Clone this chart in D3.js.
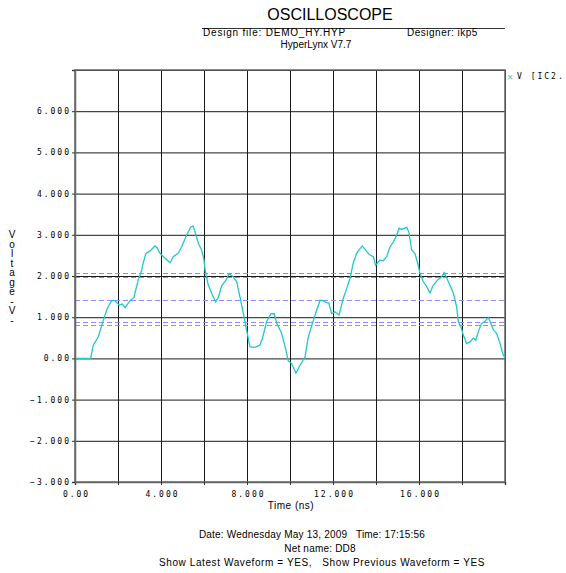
<!DOCTYPE html>
<html lang="en">
<head>
<meta charset="UTF-8">
<title>OSCILLOSCOPE</title>
<script src="https://cdn.jsdelivr.net/npm/d3@7"></script>
<style>
    body { margin: 0; background: #fff; }
    svg { display: block; }
    .lbl { font-family: "Liberation Sans", Arial, sans-serif; font-size: 10px; fill: #000; white-space: pre; }
    .mono { font-family: "DejaVu Sans Mono", monospace; font-size: 8px; letter-spacing: 2px; fill: #000; }
</style>
</head>
<body>
<div id="chart"></div>
<script>
    // waveform V [IC2...]: time (ns) / voltage (V)
    var timeNs = [0, 0.73, 0.85, 1.08, 1.32, 1.50, 1.70, 1.85, 2.06, 2.20, 2.33, 2.56, 2.74, 2.94, 3.10, 3.17, 3.30, 3.49, 3.72, 3.83,
        3.95, 4.19, 4.42, 4.57, 4.81, 4.96, 5.19, 5.38, 5.50, 5.63, 5.74, 5.89, 6.00, 6.05, 6.20, 6.36, 6.54, 6.67, 6.82, 7.02,
        7.17, 7.36, 7.52, 7.67, 7.83, 7.98, 8.14, 8.37, 8.60, 8.72, 8.91, 9.11, 9.26, 9.38, 9.61, 9.81, 9.92, 10.07, 10.28, 10.47,
        10.70, 10.85, 11.09, 11.24, 11.40, 11.55, 11.71, 11.80, 11.94, 12.09, 12.28, 12.48, 12.64, 12.79, 12.94, 13.10, 13.20, 13.36, 13.57, 13.72,
        13.88, 13.98, 14.19, 14.34, 14.50, 14.65, 14.81, 14.96, 15.07, 15.20, 15.43, 15.53, 15.66, 15.81, 15.94, 16.05, 16.20, 16.36, 16.51, 16.67,
        16.86, 17.05, 17.17, 17.30, 17.47, 17.60, 17.75, 17.83, 17.95, 18.06, 18.22, 18.37, 18.53, 18.64, 18.76, 18.91, 19.07, 19.22, 19.30, 19.46,
        19.61, 19.77, 19.92, 20.00];
    var voltage = [0, 0, 0.32, 0.52, 0.93, 1.21, 1.40, 1.40, 1.29, 1.32, 1.23, 1.40, 1.48, 1.90, 2.14, 2.31, 2.55, 2.61, 2.73, 2.68,
        2.55, 2.43, 2.32, 2.47, 2.56, 2.71, 2.99, 3.19, 3.21, 2.99, 2.79, 2.63, 2.39, 2.14, 1.78, 1.58, 1.37, 1.48, 1.76, 1.90,
        2.06, 1.98, 1.86, 1.50, 1.09, 0.69, 0.28, 0.27, 0.32, 0.49, 0.89, 1.08, 1.09, 0.85, 0.61, 0.20, -0.06, -0.12, -0.36, -0.16,
        0.04, 0.52, 0.93, 1.17, 1.41, 1.40, 1.35, 1.35, 1.09, 1.13, 1.05, 1.46, 1.70, 1.94, 2.31, 2.55, 2.63, 2.73, 2.59, 2.51,
        2.47, 2.26, 2.39, 2.37, 2.47, 2.71, 2.83, 2.99, 3.16, 3.13, 3.18, 3.06, 2.63, 2.55, 2.31, 2.06, 1.86, 1.74, 1.59, 1.78,
        1.90, 1.98, 2.08, 1.94, 1.74, 1.58, 1.25, 0.89, 0.77, 0.57, 0.36, 0.40, 0.49, 0.44, 0.65, 0.85, 0.90, 0.99, 0.90, 0.69,
        0.61, 0.36, 0.08, 0.02];

    // dashed threshold lines (V)
    var thresholds = [2.08, 1.98, 1.41, 0.88, 0.81];

    // axes
    var xGrid = [0, 2, 4, 6, 8, 10, 12, 14, 16, 18, 20];
    var xLabelled = [0, 4, 8, 12, 16];
    var yGrid = [-3, -2, -1, 0, 1, 2, 3, 4, 5, 6, 7];
    var yLabelled = [-3, -2, -1, 0, 1, 2, 3, 4, 5, 6];

    var headerLines = ["Design file: DEMO_HY.HYP", "Designer: ikp5", "HyperLynx V7.7"];
    var footerLines = ["Date: Wednesday May 13, 2009   Time: 17:15:56", "Net name: DD8",
        "Show Latest Waveform = YES,   Show Previous Waveform = YES"];
    var yTitle = "Voltage-V-";

    var width = 566, height = 573;
    var marge = {top: 70, left: 75, right: 61, bottom: 91};
    var plotW = width - marge.left - marge.right;
    var plotH = height - marge.top - marge.bottom;

    var svg = d3.select("#chart").append("svg")
        .attr("width", width)
        .attr("height", height);

    var x = d3.scaleLinear().domain([0, 20]).range([marge.left, marge.left + plotW]);
    var y = d3.scaleLinear().domain([-3, 7]).range([marge.top + plotH, marge.top]);

    function tickText(d) {
        return d === 0 ? "0.00" : d3.format(".3f")(d);
    }

    // title + header
    svg.append("text").attr("class", "lbl")
        .attr("x", 330).attr("y", 20)
        .attr("text-anchor", "middle")
        .style("font-size", "16px")
        .text("OSCILLOSCOPE");
    svg.append("line")
        .attr("x1", 202).attr("x2", 505)
        .attr("y1", 28.5).attr("y2", 28.5)
        .attr("stroke", "#333").attr("stroke-width", 1);
    svg.append("text").attr("class", "lbl")
        .attr("x", 203).attr("y", 36)
        .style("letter-spacing", "0.8px")
        .text(headerLines[0]);
    svg.append("text").attr("class", "lbl")
        .attr("x", 407).attr("y", 36)
        .style("letter-spacing", "0.5px")
        .text(headerLines[1]);
    svg.append("text").attr("class", "lbl")
        .attr("x", 316).attr("y", 48)
        .attr("text-anchor", "middle")
        .text(headerLines[2]);

    // grid
    svg.append("g")
        .attr("transform", "translate(0," + (marge.top + plotH) + ")")
        .call(d3.axisBottom(x).tickValues(xGrid).tickSize(-plotH).tickFormat(""))
        .call(function(g) { g.select(".domain").remove(); })
        .selectAll("line").attr("stroke", "#1a1a1a");
    svg.append("g")
        .attr("transform", "translate(" + marge.left + ",0)")
        .call(d3.axisLeft(y).tickValues(yGrid).tickSize(-plotW).tickFormat(""))
        .call(function(g) { g.select(".domain").remove(); })
        .selectAll("line").attr("stroke", "#1a1a1a");

    // threshold lines
    svg.append("g")
        .selectAll("line")
        .data(thresholds)
        .enter()
        .append("line")
        .attr("x1", x(0)).attr("x2", x(20))
        .attr("y1", function(d) { return Math.round(y(d)) + 0.5; })
        .attr("y2", function(d) { return Math.round(y(d)) + 0.5; })
        .attr("stroke", "#8c8cff")
        .attr("stroke-width", 1)
        .attr("stroke-dasharray", "5,3");

    // frame
    svg.append("rect")
        .attr("x", marge.left).attr("y", marge.top)
        .attr("width", plotW).attr("height", plotH)
        .attr("fill", "none")
        .attr("stroke", "#666")
        .attr("stroke-width", 1.5);

    // waveform
    var pts = timeNs.map(function(t, i) { return [t, voltage[i]]; });
    var line = d3.line()
        .x(function(d) { return x(d[0]); })
        .y(function(d) { return y(d[1]); });
    svg.append("path")
        .datum(pts)
        .attr("d", line)
        .attr("fill", "none")
        .attr("stroke", "#22c8c8")
        .attr("stroke-width", 1.3);

    // small ticks + labels
    var xAxis = svg.append("g")
        .attr("transform", "translate(0," + (marge.top + plotH) + ")")
        .call(d3.axisBottom(x).tickValues(xGrid).tickSize(3).tickPadding(4)
            .tickFormat(function(d) { return xLabelled.indexOf(d) >= 0 ? tickText(d) : ""; }));
    xAxis.select(".domain").attr("stroke", "#666").attr("stroke-width", 1.5);
    xAxis.selectAll("line").attr("stroke", "#333");
    xAxis.selectAll("text").attr("class", "mono").attr("font-family", null).attr("font-size", null)
        .attr("dx", 1).attr("y", 9);

    var yAxis = svg.append("g")
        .attr("transform", "translate(" + marge.left + ",0)")
        .call(d3.axisLeft(y).tickValues(yGrid).tickSize(3).tickPadding(1)
            .tickFormat(function(d) { return yLabelled.indexOf(d) >= 0 ? tickText(d) : ""; }));
    yAxis.select(".domain").attr("stroke", "#666").attr("stroke-width", 1.5);
    yAxis.selectAll("line").attr("stroke", "#333");
    yAxis.selectAll("text").attr("class", "mono").attr("font-family", null).attr("font-size", null);

    // axis titles
    svg.append("text").attr("class", "lbl")
        .attr("x", 291).attr("y", 509)
        .attr("text-anchor", "middle")
        .style("letter-spacing", "0.5px")
        .text("Time (ns)");
    // y title: letters stacked upright, one under the other
    svg.append("text").attr("class", "lbl")
        .attr("x", 12).attr("y", 229)
        .style("writing-mode", "vertical-rl")
        .style("text-orientation", "upright")
        .style("letter-spacing", "-1.5px")
        .text(yTitle);

    // legend
    svg.append("text")
        .attr("x", 510).attr("y", 80)
        .attr("text-anchor", "middle")
        .attr("fill", "#22c8c8")
        .style("font-family", "DejaVu Sans")
        .style("font-size", "8px")
        .text("×");
    svg.append("text").attr("class", "mono")
        .attr("x", 517).attr("y", 79)
        .text("V [IC2.");

    // footer
    svg.append("g")
        .selectAll("text")
        .data(footerLines)
        .enter()
        .append("text")
        .attr("class", "lbl")
        .attr("x", function(d, i) { return i === 1 ? 320 : 312 + i * 5; })
        .attr("y", function(d, i) { return 538 + i * 14; })
        .attr("text-anchor", "middle")
        .style("letter-spacing", function(d, i) { return i === 2 ? "0.6px" : "0.2px"; })
        .text(function(d) { return d; });
</script>
</body>
</html>
